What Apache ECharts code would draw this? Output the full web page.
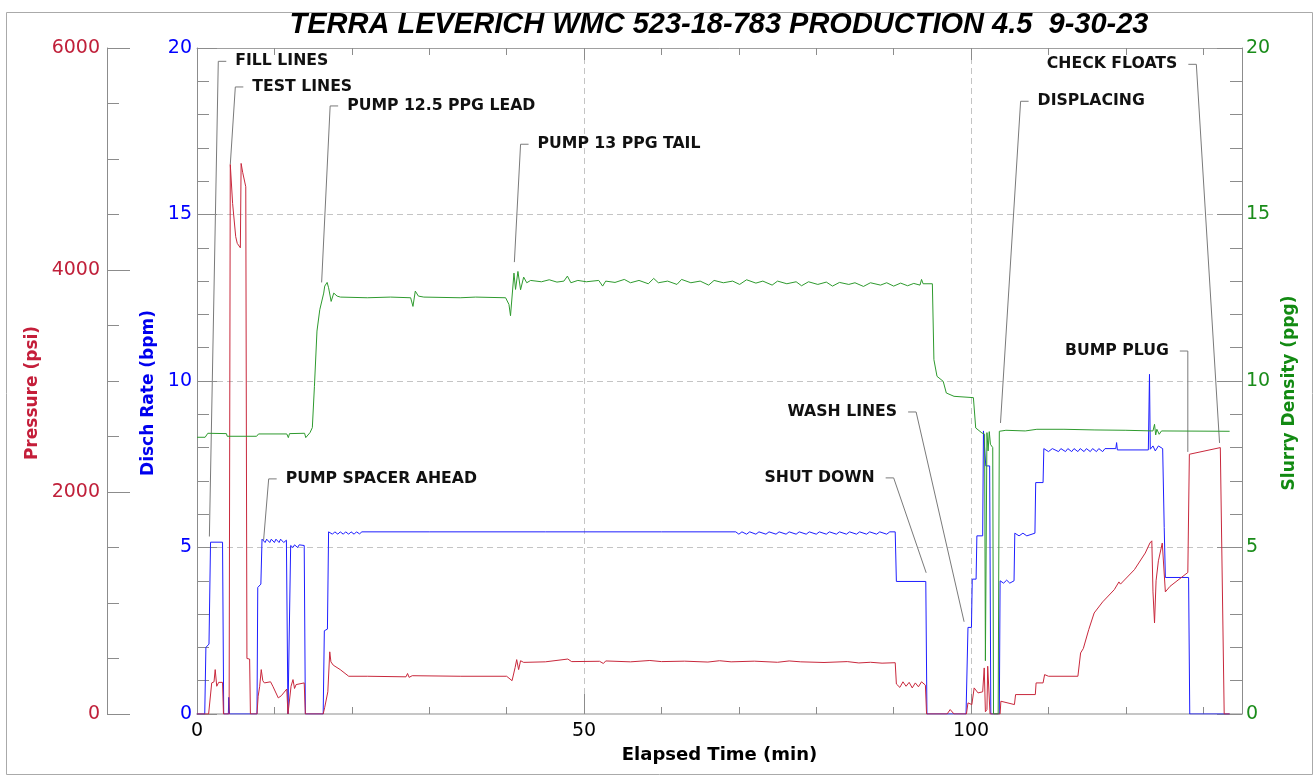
<!DOCTYPE html>
<html>
<head>
<meta charset="utf-8">
<title>Terra Leverich WMC 523-18-783 Production</title>
<script src="https://cdn.jsdelivr.net/npm/echarts@6/dist/echarts.min.js"></script>
<style>
html, body { margin: 0; padding: 0; background: #fff; }
#chart { width: 1314px; height: 777px; }
</style>
</head>
<body>
<div id="chart"></div>
<script>
"use strict";

var titleText = 'TERRA LEVERICH WMC 523-18-783 PRODUCTION 4.5  9-30-23';

// [elapsed min, bpm]
var rateData = [
    [0, 0], [1.0, 0], [1.15, 2.0], [1.55, 2.1], [1.75, 5.16], [3.3, 5.16], [3.45, 0],
    [4.05, 0], [4.1, 0.5], [4.2, 0],
    [7.75, 0], [7.85, 3.8], [8.25, 3.9], [8.4, 5.25], [8.8, 5.15], [9.0, 5.25], [9.4, 5.15], [9.6, 5.25],
    [10.0, 5.15], [10.2, 5.25], [10.6, 5.15], [10.8, 5.25], [11.2, 5.15], [11.55, 5.22], [11.75, 0], [11.95, 0],
    [12.1, 5.06], [12.4, 5.0], [12.6, 5.08], [13.0, 5.0], [13.2, 5.08], [13.85, 5.06], [14.0, 0],
    [16.3, 0], [16.45, 2.5], [16.85, 2.55], [17.0, 5.47], [17.5, 5.4], [17.8, 5.47], [18.2, 5.4], [18.5, 5.47],
    [18.9, 5.4], [19.2, 5.47], [19.6, 5.4], [19.9, 5.47], [20.3, 5.4], [20.6, 5.47], [21.0, 5.41], [21.3, 5.47],
    [30, 5.47], [45, 5.47], [60, 5.47], [69.6, 5.47], [70.0, 5.4], [70.4, 5.47], [71.0, 5.4], [71.4, 5.47],
    [72.2, 5.4], [72.6, 5.47], [73.5, 5.4], [73.9, 5.47], [74.8, 5.4], [75.2, 5.47], [76.1, 5.4], [76.5, 5.47],
    [77.4, 5.4], [77.8, 5.47], [78.7, 5.4], [79.1, 5.47], [80.0, 5.4], [80.4, 5.47], [81.3, 5.4], [81.7, 5.47],
    [82.6, 5.4], [83.0, 5.47], [83.9, 5.4], [84.3, 5.47], [85.2, 5.4], [85.6, 5.47], [86.5, 5.4], [86.9, 5.47],
    [87.8, 5.4], [88.2, 5.47], [89.1, 5.4], [89.5, 5.47], [90.2, 5.47], [90.35, 3.98], [94.15, 3.98], [94.3, 0],
    [99.35, 0], [99.6, 2.6], [100.05, 2.6], [100.15, 4.05], [100.65, 4.05], [100.75, 5.35], [101.5, 5.35],
    [101.6, 8.5], [101.85, 8.45], [101.9, 7.45], [102.4, 7.45], [102.55, 0],
    [103.65, 0], [103.75, 4.0], [104.2, 3.93], [104.6, 4.02], [105.0, 3.93], [105.55, 4.0],
    [105.65, 5.43], [106.2, 5.35], [106.7, 5.43], [107.2, 5.35], [108.25, 5.43], [108.35, 6.95], [109.3, 6.95],
    [109.4, 7.97], [110.0, 7.88], [110.5, 7.97], [111.3, 7.88], [111.6, 7.97], [112.2, 7.88], [112.5, 7.97],
    [113.0, 7.88], [113.3, 7.97], [113.8, 7.88], [114.1, 7.97], [114.6, 7.88], [114.9, 7.97], [115.4, 7.88],
    [115.7, 7.97], [116.2, 7.88], [116.5, 7.97], [117.0, 7.88], [117.3, 7.97], [118.7, 7.97], [118.8, 8.15],
    [118.9, 7.93], [122.9, 7.93], [123.05, 10.2], [123.15, 7.95], [123.5, 8.05], [123.8, 7.9], [124.2, 8.05],
    [124.75, 7.97], [124.95, 5.6], [125.1, 4.1], [128.1, 4.1], [128.25, 0], [133.4, 0]
];

// [elapsed min, psi]
var pressureData = [
    [0, 0], [1.5, 0], [1.9, 280], [2.2, 290], [2.35, 400], [2.55, 250], [2.8, 285], [3.3, 285], [3.42, 0],
    [4.15, 0], [4.3, 4950], [4.6, 4600], [5.0, 4300], [5.2, 4240], [5.6, 4200], [5.7, 4960], [5.9, 4880],
    [6.3, 4750], [6.45, 500], [6.8, 495], [6.9, 0],
    [7.75, 0], [7.9, 160], [8.1, 250], [8.3, 400], [8.5, 300], [8.7, 280], [9.5, 290], [9.8, 250],
    [10.5, 145], [10.9, 165], [11.6, 225], [11.75, 0], [11.95, 0],
    [12.15, 250], [12.4, 310], [12.6, 230], [12.8, 265], [13.85, 280], [14.0, 0],
    [16.3, 0], [16.5, 60], [16.9, 200], [17.15, 560], [17.3, 470], [17.6, 440], [18.5, 400], [19.6, 340],
    [22, 340], [27.0, 335], [27.2, 365], [27.4, 330], [27.8, 345], [34, 340], [40.0, 340], [40.7, 300],
    [41.1, 420], [41.3, 490], [41.55, 400], [41.8, 480], [42.2, 465], [45, 470], [47.9, 495], [48.4, 472],
    [52, 475], [52.5, 455], [52.8, 478], [56, 470], [58.5, 482], [60, 472], [63, 476], [66, 468], [67.5, 480],
    [69, 470], [72, 476], [75, 466], [76.5, 478], [78, 470], [81, 464], [84, 472], [85.5, 460], [87, 466],
    [88.5, 458], [90.2, 462], [90.35, 270], [90.8, 240], [91.2, 290], [91.6, 250], [92.0, 285], [92.4, 235],
    [92.8, 280], [93.2, 245], [93.6, 290], [94.1, 260], [94.25, 0],
    [96.9, 0], [97.3, 40], [97.8, 0], [99.4, 0], [99.6, 100], [100.1, 85], [100.4, 235], [100.9, 190],
    [101.5, 200], [101.7, 415], [101.85, 20], [102.05, 40], [102.15, 430], [102.45, 0],
    [103.75, 0], [103.85, 115], [105.6, 85], [105.75, 175], [108.3, 175], [108.4, 280], [109.3, 280],
    [109.5, 355], [110, 340], [113.8, 340], [114.15, 550], [114.5, 590], [115.2, 760], [115.9, 910],
    [117.0, 1010], [118.5, 1120], [119.1, 1190], [119.3, 1170], [121.1, 1300], [122.5, 1450], [123.1, 1540],
    [123.35, 1560], [123.5, 1100], [123.7, 820], [123.9, 1200], [124.2, 1380], [124.7, 1540], [125.1, 1100],
    [125.7, 1150], [128.0, 1275], [128.2, 2340], [132.2, 2400], [132.7, 0], [133.4, 0]
];

// [elapsed min, ppg]
var densityData = [
    [0, 8.31], [1.05, 8.31], [1.4, 8.43], [3.8, 8.42], [3.9, 8.34], [7.7, 8.34], [7.95, 8.41], [11.6, 8.41],
    [11.8, 8.3], [11.95, 8.42], [13.9, 8.43], [14.05, 8.3], [14.3, 8.36], [14.6, 8.45], [14.9, 8.6],
    [15.17, 9.84], [15.5, 11.5], [15.86, 12.14], [16.37, 12.64], [16.5, 12.85], [16.81, 12.96], [17.0, 12.8],
    [17.33, 12.39], [17.67, 12.64], [18.1, 12.55], [18.53, 12.52], [22, 12.5], [25, 12.52], [27.6, 12.5],
    [27.9, 12.24], [28.2, 12.7], [28.6, 12.55], [29.3, 12.52], [34, 12.5], [36, 12.52], [39.87, 12.5],
    [40.3, 12.3], [40.5, 11.96], [40.95, 13.24], [41.15, 12.75], [41.46, 13.29], [41.8, 12.74], [42.2, 13.12],
    [42.6, 12.95], [43.1, 13.02], [44.5, 12.98], [45.5, 13.04], [46.5, 12.97], [47.4, 13.0], [47.85, 13.15],
    [48.3, 12.95], [49.2, 13.02], [50.3, 12.98], [51.9, 13.02], [52.4, 12.85], [52.8, 13.0], [54.0, 12.96],
    [55.2, 13.05], [56.0, 12.95], [57.1, 13.02], [58.3, 12.92], [59.0, 13.08], [59.6, 12.95], [60.8, 13.0],
    [62.0, 12.9], [62.6, 13.05], [63.8, 12.95], [65.0, 13.0], [66.1, 12.88], [66.8, 13.02], [68.0, 12.95],
    [69.2, 13.0], [70.1, 12.9], [71.0, 13.04], [72.2, 12.94], [73.1, 13.0], [74.3, 12.88], [75.0, 13.0],
    [76.2, 12.92], [77.4, 12.98], [78.1, 12.86], [79.0, 12.98], [80.2, 12.9], [81.3, 12.97], [82.1, 12.85],
    [83.0, 12.96], [84.2, 12.9], [85.0, 12.95], [86.1, 12.84], [87.0, 12.95], [88.3, 12.88], [89.1, 12.95],
    [90.0, 12.85], [90.9, 12.94], [91.8, 12.86], [92.6, 12.93], [93.4, 12.88], [93.6, 13.05], [93.8, 12.92],
    [95.0, 12.92], [95.2, 10.64], [95.6, 10.14], [96.4, 9.99], [96.8, 9.64], [97.8, 9.54], [100.3, 9.5],
    [100.6, 8.59], [101.4, 8.44], [101.75, 8.4], [101.85, 1.6], [102.05, 8.45], [102.2, 7.9], [102.35, 8.48],
    [102.5, 8.1], [102.8, 8.0], [102.9, 0], [103.5, 0], [103.65, 8.49], [104.5, 8.52], [107, 8.5],
    [108.5, 8.55], [112, 8.55], [116, 8.53], [120, 8.52], [123.5, 8.5], [123.7, 8.7], [123.85, 8.38],
    [124.0, 8.55], [124.3, 8.4], [124.6, 8.5], [133.4, 8.49]
];

// callouts: text, elbow point and tip point in (min, bpm)
var noteText = ['FILL LINES', 'TEST LINES', 'PUMP 12.5 PPG LEAD', 'PUMP 13 PPG TAIL', 'PUMP SPACER AHEAD',
    'SHUT DOWN', 'WASH LINES', 'DISPLACING', 'CHECK FLOATS', 'BUMP PLUG'];
var noteElbow = [[2.75, 19.6], [4.95, 18.83], [17.2, 18.26], [41.8, 17.11], [9.26, 7.06],
    [90.0, 7.09], [92.9, 9.07], [106.4, 18.4], [129.1, 19.51], [128.0, 10.9]];
var noteTip = [[1.6, 5.33], [4.3, 16.5], [16.1, 12.96], [41.0, 13.57], [8.6, 5.21],
    [94.2, 4.24], [99.1, 2.77], [103.8, 8.74], [132.1, 8.14], [128.0, 7.87]];
var noteSide = ['right', 'right', 'right', 'right', 'right', 'left', 'left', 'right', 'left', 'left'];

var dom = document.getElementById('chart');
var myChart = echarts.init(dom);

var axisGray = '#8c8c8c';
var dash = { type: [6, 4], color: '#c4c4c4', width: 1 };

function nameStyle(c) {
    return { color: c, fontWeight: 'bold', fontSize: 17, fontFamily: 'DejaVu Sans', padding: [0, 24, 0, 0] };
}

function plainNum(v) {
    return String(v);
}

var option = {
    animation: false,
    backgroundColor: '#fff',
    grid: { left: 197, right: 72, top: 48, bottom: 63 },
    xAxis: [
        {   // minor ticks, bottom
            type: 'value', position: 'bottom', min: 0, max: 135, interval: 10,
            axisLine: { show: true, onZero: false, lineStyle: { color: '#c6c6c6', width: 2 } },
            axisTick: { show: true, inside: true, length: 7, lineStyle: { color: axisGray } },
            axisLabel: { show: false },
            splitLine: { show: false }
        },
        {   // minor ticks, top
            type: 'value', position: 'top', min: 0, max: 135, interval: 10,
            axisLine: { show: true, onZero: false, lineStyle: { color: '#a0a0a0', width: 1 } },
            axisTick: { show: true, inside: true, length: 7, lineStyle: { color: axisGray } },
            axisLabel: { show: false },
            splitLine: { show: false }
        },
        {   // labels and grid, bottom
            type: 'value', position: 'bottom', min: 0, max: 135, interval: 50,
            name: 'Elapsed Time (min)', nameLocation: 'middle', nameGap: 31,
            nameTextStyle: { color: '#000', fontWeight: 'bold', fontSize: 18, fontFamily: 'DejaVu Sans' },
            axisLine: { show: false, onZero: false },
            axisTick: { show: true, inside: true, length: 20, lineStyle: { color: axisGray } },
            axisLabel: { margin: 8, showMaxLabel: false, color: '#000', fontSize: 19, fontFamily: 'DejaVu Sans' },
            splitLine: { show: true, lineStyle: dash }
        },
        {   // major ticks, top
            type: 'value', position: 'top', min: 0, max: 135, interval: 50,
            axisLine: { show: false, onZero: false },
            axisTick: { show: true, inside: true, length: 12, lineStyle: { color: axisGray } },
            axisLabel: { show: false },
            splitLine: { show: false }
        }
    ],
    yAxis: [
        {
            type: 'value', position: 'left', min: 0, max: 20, interval: 5,
            name: 'Disch Rate (bpm)', nameLocation: 'middle', nameGap: 38,
            nameTextStyle: nameStyle('#0000ee'),
            axisLine: { show: true, onZero: false, lineStyle: { color: axisGray } },
            axisTick: { show: true, inside: true, length: 20, lineStyle: { color: axisGray } },
            minorTick: { show: true, splitNumber: 5, length: 12, lineStyle: { color: axisGray } },
            axisLabel: { margin: 5, color: '#0000ff', fontSize: 19, fontFamily: 'DejaVu Sans' },
            splitLine: { show: true, lineStyle: dash }
        },
        {
            type: 'value', position: 'right', min: 0, max: 20, interval: 5,
            name: 'Slurry Density (ppg)', nameLocation: 'middle', nameGap: 39,
            nameTextStyle: nameStyle('#128a12'),
            axisLine: { show: true, onZero: false, lineStyle: { color: axisGray } },
            axisTick: { show: true, inside: true, length: 25, lineStyle: { color: axisGray } },
            minorTick: { show: true, splitNumber: 5, length: 12, lineStyle: { color: axisGray } },
            axisLabel: { margin: 4, color: '#1a8c1a', fontSize: 19, fontFamily: 'DejaVu Sans' },
            splitLine: { show: false }
        },
        {
            type: 'value', position: 'left', offset: 90, min: 0, max: 6000, interval: 2000,
            name: 'Pressure (psi)', nameLocation: 'middle', nameGap: 65,
            nameTextStyle: nameStyle('#c41e3a'),
            axisLine: { show: true, onZero: false, lineStyle: { color: axisGray } },
            axisTick: { show: true, inside: true, length: 23, lineStyle: { color: axisGray } },
            minorTick: { show: true, splitNumber: 4, length: 12, lineStyle: { color: axisGray } },
            axisLabel: { margin: 7, color: '#c0203a', fontSize: 19, fontFamily: 'DejaVu Sans', formatter: plainNum },
            splitLine: { show: false }
        }
    ],
    series: [
        {
            name: 'Disch Rate', type: 'line', xAxisIndex: 0, yAxisIndex: 0, data: rateData,
            showSymbol: false, lineStyle: { color: '#1e1eff', width: 1 }, itemStyle: { color: '#1e1eff' }
        },
        {
            name: 'Pressure', type: 'line', xAxisIndex: 0, yAxisIndex: 2, data: pressureData,
            showSymbol: false, lineStyle: { color: '#c8283c', width: 1 }, itemStyle: { color: '#c8283c' }
        },
        {
            name: 'Slurry Density', type: 'line', xAxisIndex: 0, yAxisIndex: 1, data: densityData,
            showSymbol: false, lineStyle: { color: '#2e9a2e', width: 1 }, itemStyle: { color: '#2e9a2e' }
        }
    ]
};

myChart.setOption(option);

// title, frame and callouts placed after the axes exist
function drawExtras() {
    var els = [];
    els.push({
        type: 'rect', silent: true, z: -1,
        shape: { x: 6.5, y: 12.5, width: 1306, height: 762 },
        style: { fill: 'none', stroke: '#aaa', lineWidth: 1 }
    });
    els.push({
        type: 'text', silent: true, x: 719, y: 25,
        style: {
            text: titleText, fill: '#000', fontSize: 29, fontWeight: 'bold', fontStyle: 'italic',
            fontFamily: 'Liberation Sans', align: 'center', verticalAlign: 'middle'
        }
    });
    for (var i = 0; i < noteText.length; i++) {
        var elbow = myChart.convertToPixel({ xAxisIndex: 0, yAxisIndex: 0 }, noteElbow[i]);
        var tip = myChart.convertToPixel({ xAxisIndex: 0, yAxisIndex: 0 }, noteTip[i]);
        var dir = noteSide[i] === 'right' ? 1 : -1;
        var stubEnd = elbow[0] + dir * 8;
        els.push({
            type: 'polyline', silent: true,
            shape: { points: [[stubEnd, elbow[1]], elbow, tip] },
            style: { stroke: '#7a7a7a', lineWidth: 1, fill: null }
        });
        els.push({
            type: 'text', silent: true,
            x: stubEnd + dir * (dir > 0 ? 9 : 11), y: elbow[1],
            style: {
                text: noteText[i], fill: '#111', fontSize: 15.7, fontWeight: 'bold',
                fontFamily: 'DejaVu Sans', align: dir > 0 ? 'left' : 'right', verticalAlign: 'middle'
            }
        });
    }
    myChart.setOption({ graphic: els });
}

drawExtras();
</script>
</body>
</html>
